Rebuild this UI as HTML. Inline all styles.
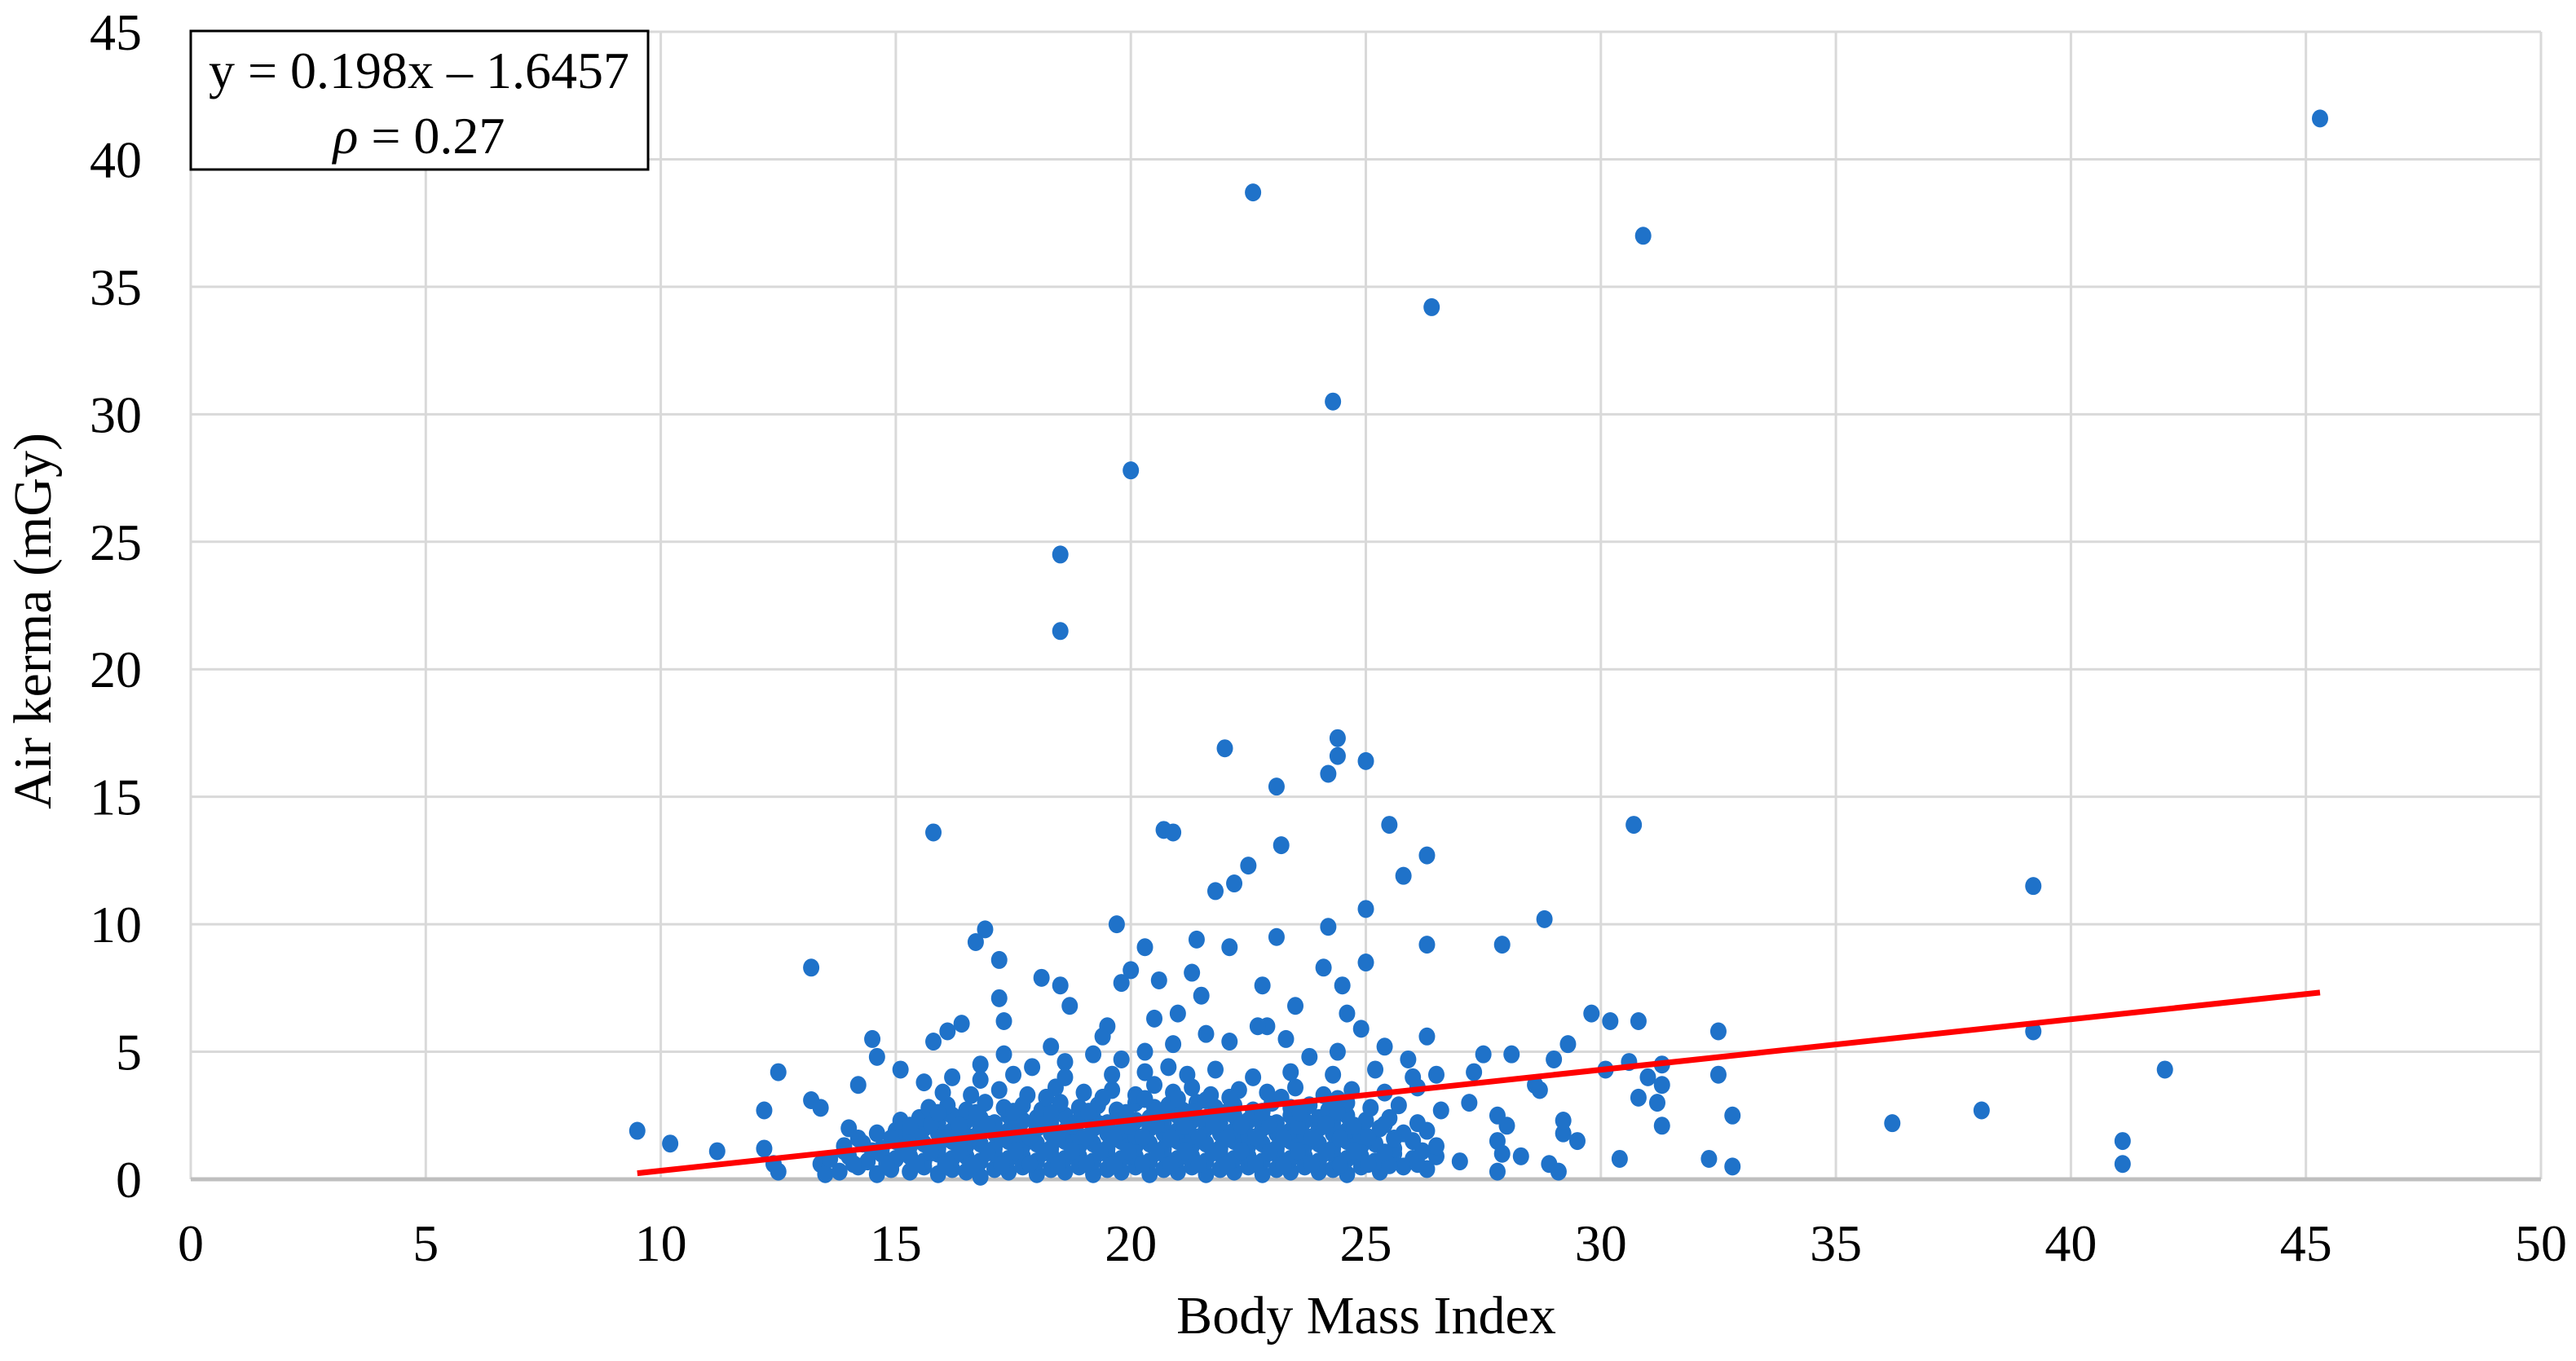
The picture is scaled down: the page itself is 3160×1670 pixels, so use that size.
<!DOCTYPE html>
<html><head><meta charset="utf-8">
<style>
html,body{margin:0;padding:0;background:#fff;}
svg{display:block;font-family:"Liberation Serif",serif;}
</style></head>
<body>
<svg id="chart" width="3160" height="1670" viewBox="0 0 3160 1670" xmlns="http://www.w3.org/2000/svg">
<g id="grid"></g>
<g id="xticks"></g>
<g id="yticks"></g>
<g id="points"></g>
<g id="trend"></g>
<text x="1676" y="1636" font-size="66" text-anchor="middle">Body Mass Index</text>
<text transform="translate(62,762) rotate(-90)" font-size="66" text-anchor="middle">Air kerma (mGy)</text>
<g>
<rect x="234" y="38" width="561" height="170" fill="#fff" stroke="#000" stroke-width="3"/>
<text x="514" y="108" font-size="64" text-anchor="middle">y = 0.198x – 1.6457</text>
<text x="514" y="188" font-size="64" text-anchor="middle"><tspan font-style="italic">ρ</tspan> = 0.27</text>
</g>
</svg>
<script>
const xTicks = [0,5,10,15,20,25,30,35,40,45,50];
const yTicks = [0,5,10,15,20,25,30,35,40,45];
const trendSlope = 0.198;
const trendIntercept = -1.6457;
const trendRange = [9.5, 45.3];
const outliers = [[9.5,1.9],[10.2,1.4],[11.2,1.1],[12.2,1.2],[12.2,2.7],[12.5,4.2],[12.4,0.6],[12.5,0.3],[13.2,8.3],[13.2,3.1],[13.4,2.8],[13.4,0.6],[13.5,0.2],[14.2,3.7],[14.5,5.5],[14.6,4.8],[15.1,4.3],[15.8,13.6],[15.8,5.4],[16.1,5.8],[16.4,6.1],[16.7,9.3],[16.9,9.8],[17.2,7.1],[17.2,8.6],[17.3,6.2],[18.1,7.9],[18.3,5.2],[18.5,24.5],[18.5,21.5],[18.5,7.6],[18.7,6.8],[19.5,6.0],[19.7,10.0],[19.8,7.7],[20.0,8.2],[20.0,27.8],[20.3,9.1],[20.6,7.8],[20.7,13.7],[20.9,13.6],[21.0,6.5],[21.4,9.4],[21.5,7.2],[21.8,11.3],[22.0,16.9],[22.1,9.1],[22.2,11.6],[22.5,12.3],[22.6,38.7],[22.9,6.0],[23.1,15.4],[23.2,13.1],[23.1,9.5],[24.1,8.3],[24.2,9.9],[24.2,15.9],[24.3,30.5],[24.4,16.6],[24.4,17.3],[24.5,7.6],[25.0,16.4],[25.0,10.6],[25.0,8.5],[25.5,13.9],[25.8,11.9],[26.3,12.7],[26.3,9.2],[26.4,34.2],[27.9,9.2],[28.8,10.2],[29.3,5.3],[29.8,6.5],[30.2,6.2],[30.7,13.9],[30.8,6.2],[30.9,37.0],[31.3,4.5],[31.3,2.1],[31.0,4.0],[32.3,0.8],[32.5,5.8],[32.5,4.1],[32.8,2.5],[32.8,0.5],[36.2,2.2],[38.1,2.7],[39.2,11.5],[39.2,5.8],[41.1,1.5],[41.1,0.6],[42.0,4.3],[45.3,41.6],[29.2,1.8],[28.9,0.6],[29.1,0.3],[28.6,3.7],[30.4,0.8],[30.8,3.2],[31.2,3.0],[27.8,2.5],[27.8,1.5],[27.8,0.3],[27.5,4.9],[27.3,4.2],[28.1,4.9],[28.7,3.5],[29.2,2.3],[29.0,4.7],[29.5,1.5],[30.1,4.3],[30.6,4.6],[31.3,3.7],[27.9,1.0],[28.3,0.9],[27.2,3.0],[28.0,2.1],[24.9,5.9],[25.4,5.2],[25.9,4.7],[26.3,5.6],[26.5,4.1],[23.8,4.8],[23.3,5.5],[22.7,6.0],[22.1,5.4],[21.6,5.7],[20.9,5.3],[20.3,5.0],[19.8,4.7],[19.2,4.9],[18.6,4.6],[17.9,4.4],[17.3,4.9],[16.8,4.5],[16.2,4.0],[15.6,3.8],[24.4,5.0],[24.6,6.5],[23.5,6.8],[22.8,7.6],[21.3,8.1],[20.5,6.3],[19.4,5.6],[16.8,3.9]];
const row1 = [[13.8,0.3],[14.2,0.5],[14.6,0.2],[14.9,0.4],[15.3,0.3],[15.6,0.5],[15.9,0.2],[16.2,0.4],[16.5,0.3],[16.8,0.1],[17.1,0.4],[17.4,0.3],[17.7,0.5],[18.0,0.2],[18.3,0.4],[18.6,0.3],[18.9,0.5],[19.2,0.2],[19.5,0.4],[19.8,0.3],[20.1,0.5],[20.4,0.2],[20.7,0.4],[21.0,0.3],[21.3,0.5],[21.6,0.2],[21.9,0.4],[22.2,0.3],[22.5,0.5],[22.8,0.2],[23.1,0.4],[23.4,0.3],[23.7,0.5],[24.0,0.3],[24.3,0.4],[24.6,0.2],[24.9,0.5],[25.3,0.3],[25.8,0.5],[26.3,0.4]];
const row2 = [[13.6,0.8],[14.0,0.9],[14.4,0.7],[14.7,1.0],[15.0,0.8],[15.3,0.9],[15.6,0.7],[15.9,1.0],[16.2,0.8],[16.5,0.9],[16.8,0.7],[17.1,1.0],[17.4,0.8],[17.7,0.9],[18.0,0.7],[18.3,1.0],[18.6,0.8],[18.9,0.9],[19.2,0.7],[19.5,1.0],[19.8,0.8],[20.1,0.9],[20.4,0.7],[20.7,1.0],[21.0,0.8],[21.3,0.9],[21.6,0.7],[21.9,1.0],[22.2,0.8],[22.5,0.9],[22.8,0.7],[23.1,1.0],[23.4,0.8],[23.7,0.9],[24.0,0.7],[24.3,1.0],[24.6,0.8],[24.9,0.9],[25.2,0.7],[25.6,1.0],[26.0,0.8],[26.5,0.9],[27.0,0.7]];
const row3 = [[13.9,1.3],[14.3,1.4],[14.7,1.2],[15.0,1.5],[15.3,1.3],[15.6,1.4],[15.9,1.2],[16.2,1.5],[16.5,1.3],[16.8,1.4],[17.1,1.2],[17.4,1.5],[17.7,1.3],[18.0,1.4],[18.3,1.2],[18.6,1.5],[18.9,1.3],[19.2,1.4],[19.5,1.2],[19.8,1.5],[20.1,1.3],[20.4,1.4],[20.7,1.2],[21.0,1.5],[21.3,1.3],[21.6,1.4],[21.9,1.2],[22.2,1.5],[22.5,1.3],[22.8,1.4],[23.1,1.2],[23.4,1.5],[23.7,1.3],[24.0,1.4],[24.3,1.2],[24.6,1.5],[24.9,1.3],[25.2,1.4],[25.6,1.2],[26.0,1.5],[26.5,1.3]];
const row4 = [[14.6,1.8],[15.0,1.9],[15.3,1.7],[15.6,2.0],[15.9,1.8],[16.2,1.9],[16.5,1.7],[16.8,2.0],[17.1,1.8],[17.4,1.9],[17.7,1.7],[18.0,2.0],[18.3,1.8],[18.6,1.9],[18.9,1.7],[19.2,2.0],[19.5,1.8],[19.8,1.9],[20.1,1.7],[20.4,2.0],[20.7,1.8],[21.0,1.9],[21.3,1.7],[21.6,2.0],[21.9,1.8],[22.2,1.9],[22.5,1.7],[22.8,2.0],[23.1,1.8],[23.4,1.9],[23.7,1.7],[24.0,2.0],[24.3,1.8],[24.6,1.9],[24.9,1.7],[25.3,2.0],[25.8,1.8],[26.3,1.9]];
const row5 = [[15.1,2.3],[15.5,2.4],[15.9,2.2],[16.2,2.5],[16.5,2.3],[16.8,2.4],[17.1,2.2],[17.4,2.5],[17.7,2.3],[18.0,2.4],[18.3,2.2],[18.6,2.5],[18.9,2.3],[19.2,2.4],[19.5,2.2],[19.8,2.5],[20.1,2.3],[20.4,2.4],[20.7,2.2],[21.0,2.5],[21.3,2.3],[21.6,2.4],[21.9,2.2],[22.2,2.5],[22.5,2.3],[22.8,2.4],[23.1,2.2],[23.4,2.5],[23.7,2.3],[24.0,2.4],[24.3,2.2],[24.6,2.5],[25.0,2.3],[25.5,2.4],[26.1,2.2]];
const row6 = [[15.7,2.8],[16.1,2.9],[16.5,2.7],[16.9,3.0],[17.3,2.8],[17.7,2.9],[18.1,2.7],[18.5,3.0],[18.9,2.8],[19.3,2.9],[19.7,2.7],[20.1,3.0],[20.5,2.8],[20.8,2.9],[21.1,2.7],[21.4,3.0],[21.8,2.8],[22.2,2.9],[22.6,2.7],[23.0,3.0],[23.4,2.8],[23.8,2.9],[24.2,2.7],[24.6,3.0],[25.1,2.8],[25.7,2.9]];
const row7 = [[16.0,3.4],[16.6,3.3],[17.2,3.5],[17.8,3.3],[18.4,3.6],[19.0,3.4],[19.6,3.5],[20.1,3.3],[20.5,3.7],[20.9,3.4],[21.3,3.6],[21.7,3.3],[22.3,3.5],[22.9,3.4],[23.5,3.6],[24.1,3.3],[24.7,3.5],[25.4,3.4],[26.1,3.6],[26.6,2.7]];
const row8 = [[17.5,4.1],[18.6,4.0],[19.6,4.1],[20.3,4.2],[20.8,4.4],[21.2,4.1],[21.8,4.3],[22.6,4.0],[23.4,4.2],[24.3,4.1],[25.2,4.3],[26.0,4.0],[14.0,2.0],[14.2,1.6],[13.9,1.1]];
const fillA = [[14.1,0.6],[14.8,0.6],[15.45,0.6],[16.05,0.55],[16.65,0.6],[17.25,0.55],[17.85,0.6],[18.45,0.55],[19.05,0.6],[19.65,0.55],[20.25,0.6],[20.85,0.55],[21.45,0.6],[22.05,0.55],[22.65,0.6],[23.25,0.55],[23.85,0.6],[24.45,0.55],[25.05,0.6],[25.5,0.55],[26.1,0.6]];
const fillB = [[14.5,1.1],[15.15,1.1],[15.75,1.05],[16.35,1.1],[16.95,1.05],[17.55,1.1],[18.15,1.05],[18.75,1.1],[19.35,1.05],[19.95,1.1],[20.55,1.05],[21.15,1.1],[21.75,1.05],[22.35,1.1],[22.95,1.05],[23.55,1.1],[24.15,1.05],[24.75,1.1],[25.4,1.05],[26.2,1.1]];
const fillC = [[14.9,1.6],[15.45,1.65],[16.05,1.6],[16.65,1.65],[17.25,1.6],[17.85,1.65],[18.45,1.6],[19.05,1.65],[19.65,1.6],[20.25,1.65],[20.85,1.6],[21.45,1.65],[22.05,1.6],[22.65,1.65],[23.25,1.6],[23.85,1.65],[24.45,1.6],[25.05,1.65],[25.6,1.6]];
const fillD = [[15.3,2.1],[15.75,2.15],[16.35,2.1],[16.95,2.15],[17.55,2.1],[18.15,2.15],[18.75,2.1],[19.35,2.15],[19.95,2.1],[20.55,2.15],[21.15,2.1],[21.75,2.15],[22.35,2.1],[22.95,2.15],[23.55,2.1],[24.15,2.15],[24.75,2.1],[25.4,2.15]];
const fillE = [[15.9,2.6],[16.7,2.6],[17.5,2.65],[18.3,2.6],[19.1,2.65],[19.9,2.6],[20.65,2.6],[21.3,2.65],[22.0,2.6],[22.8,2.65],[23.6,2.6],[24.4,2.65],[20.3,3.15],[21.0,3.15],[21.6,3.1],[22.1,3.2],[19.4,3.2],[18.2,3.2],[23.2,3.2],[24.4,3.15]];
const observations = outliers.concat(row1,row2,row3,row4,row5,row6,row7,row8,fillA,fillB,fillC,fillD,fillE);

const X0 = 234, X1 = 3117, Y0 = 1447, Y45 = 39;
const xs = v => X0 + (v - 0) * (X1 - X0) / 50;
const ys = v => Y0 - v * (Y0 - Y45) / 45;
const NS = 'http://www.w3.org/2000/svg';
function mk(tag, attrs, parent){const e=document.createElementNS(NS,tag);for(const k in attrs)e.setAttribute(k,attrs[k]);parent.appendChild(e);return e;}

const grid = document.getElementById('grid');
xTicks.forEach(t=>{ if(t===0) return;
  const l = mk('line',{x1:xs(t),x2:xs(t),y1:ys(45),y2:Y0,stroke:'#d9d9d9','stroke-width':3},grid);
  
  
});
yTicks.forEach(t=>{ if(t===0) return;
  const l = mk('line',{x1:X0,x2:X1,y1:ys(t),y2:ys(t),stroke:'#d9d9d9','stroke-width':3},grid);
  
  
});
const vl = mk('line',{x1:X0,x2:X0,y1:ys(45),y2:Y0,stroke:'#d9d9d9','stroke-width':3},grid);


const ax = mk('line',{x1:X0,x2:X1,y1:Y0,y2:Y0,stroke:'#bfbfbf','stroke-width':5},grid);



const xg = document.getElementById('xticks');
xTicks.forEach(t=>{
  const e = mk('text',{x:xs(t),y:1547,'font-size':64,'text-anchor':'middle'},xg);
  e.textContent = t;
  
  
});
const yg = document.getElementById('yticks');
yTicks.forEach(t=>{
  const e = mk('text',{x:174,y:ys(t)+22,'font-size':64,'text-anchor':'end'},yg);
  e.textContent = t;
  
  
});

const pg = document.getElementById('points');
observations.forEach(p=>{
  const c = mk('ellipse',{cx:xs(p[0]),cy:ys(p[1]),rx:10,ry:11,fill:'#1f72c9'},pg);
  
  
});

const tg = document.getElementById('trend');
const tl = mk('line',{x1:xs(trendRange[0]),y1:ys(trendSlope*trendRange[0]+trendIntercept),x2:xs(trendRange[1]),y2:ys(trendSlope*trendRange[1]+trendIntercept),stroke:'#ff0000','stroke-width':7},tg);


</script>
</body></html>
